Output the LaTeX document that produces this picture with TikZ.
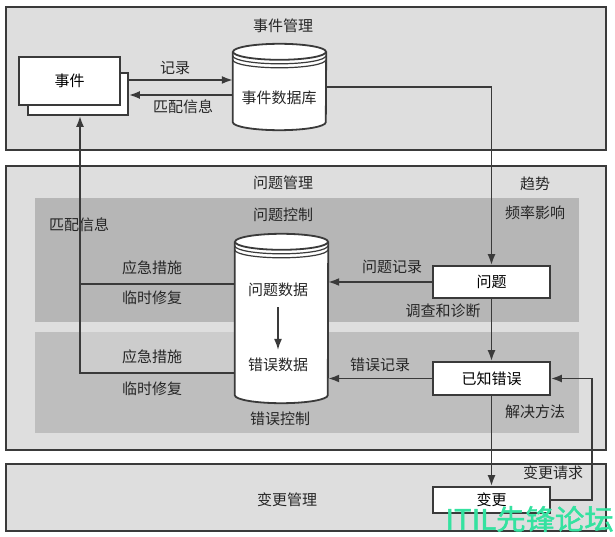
\documentclass[tikz,border=0pt]{standalone}
\usepackage{fontspec}
\setmainfont{Noto Sans CJK SC}
\newfontfamily\markfont{Noto Sans CJK SC}[FakeBold=1.6]
\usetikzlibrary{arrows.meta,calc,positioning}
\definecolor{outerfill}{RGB}{222,222,222}
\definecolor{bandfill}{RGB}{182,182,182}
\definecolor{bandfillb}{RGB}{190,190,190}
\definecolor{stripfill}{RGB}{204,204,204}
\definecolor{ink}{RGB}{58,58,58}
\definecolor{mark}{RGB}{52,226,160}

\newcommand\drum[1]{%
	\fill[white] (#1.north west) -- (#1.south west) arc[start angle=180,end angle=360,x radius=46.5pt,y radius=8pt] -- (#1.north east) arc[start angle=0,end angle=180,x radius=46.5pt,y radius=8pt] -- cycle;
	\draw[wire] (#1.north west) -- (#1.south west) arc[start angle=180,end angle=360,x radius=46.5pt,y radius=8pt] -- (#1.north east);
	\draw[wire] (#1.north) ellipse[x radius=46.5pt,y radius=8pt];
	\draw[ink, line width=1.2pt] ([yshift=-4pt]#1.north west) arc[start angle=180,end angle=360,x radius=46.5pt,y radius=8pt];
	\draw[ink, line width=1.2pt] ([yshift=-8pt]#1.north west) arc[start angle=180,end angle=360,x radius=46.5pt,y radius=8pt];
}

\begin{document}
\begin{tikzpicture}[x=1pt,y=-1pt,
		font=\fontsize{15}{17}\selectfont,
		region/.style={draw=ink, line width=1.5pt, fill=outerfill},
		box/.style={draw=ink, line width=1.8pt, fill=white, text=black, minimum width=117pt, inner sep=0pt},
		lbl/.style={text=black!85, inner sep=0pt},
		wire/.style={draw=ink, line width=1.8pt},
		flow/.style={draw=ink, line width=1.8pt, -{Latex[length=11pt,width=8pt]}}]
	\useasboundingbox (0,0) rectangle (615,537);
	\draw[region] (6,7) rectangle (606,150);
	\draw[region] (6,166) rectangle (606,450);
	\fill[bandfill] (35,198) rectangle (579,322);
	\fill[bandfillb] (35,332) rectangle (579,433);
	\fill[stripfill] (80,332) rectangle (235,373);
	\draw[region] (6,464) rectangle (606,531);

	\node[lbl] (evtmgmt) at (283,26) {事件管理};
	\node[lbl] (probmgmt) at (283,183) {问题管理};
	\node[lbl] (probctl) at (283,215) {问题控制};
	\node[lbl] (errctl) at (280,419) {错误控制};
	\node[lbl] (chgmgmt) at (287,500) {变更管理};
	\node[lbl] (trend) at (535,184) {趋势};
	\node[lbl] (freq) at (535,213) {频率影响};
	\node[lbl] (matchB) at (79,225) {匹配信息};
	\node[lbl] (wkA) at (152,268) {应急措施};
	\node[lbl] (fixA) at (152,298) {临时修复};
	\node[lbl] (wkB) at (152,357) {应急措施};
	\node[lbl] (fixB) at (152,389) {临时修复};
	\node[lbl] (probrec) at (392,267) {问题记录};
	\node[lbl] (diag) at (443,311) {调查和诊断};
	\node[lbl] (errrec) at (380,365) {错误记录};
	\node[lbl] (solve) at (535,412) {解决方法};
	\node[lbl] (rfc) at (553,473) {变更请求};
	\node[lbl] (rec) at (175,68) {记录};
	\node[lbl] (matchA) at (183,107) {匹配信息};

	\node[box, minimum width=100pt, minimum height=42pt] (evtback) at (78,94) {};
	\node[box, minimum width=101pt, minimum height=48pt] (evt) at (69.5,81) {事件};
	\node[box, minimum height=32pt] (prob) at (491.5,282) {问题};
	\node[box, minimum height=33pt] (kerr) at (491.5,378.5) {已知错误};
	\node[box, minimum height=26pt] (chg) at (491.5,500) {变更};

	\node[minimum width=93pt, minimum height=70pt, inner sep=0pt] (edb) at (279.5,87) {};
	\drum{edb}
	\node[lbl] (edbtxt) at (279,98) {事件数据库};
	\node[minimum width=93pt, minimum height=153pt, inner sep=0pt] (pdb) at (281.5,318.5) {};
	\drum{pdb}
	\node[lbl] (pdata) at (278,290) {问题数据};
	\node[lbl] (edata) at (278,365) {错误数据};

	\coordinate (rowA) at (0,80);
	\coordinate (rowB) at (0,95);
	\coordinate (tapA) at (80,284);
	\coordinate (tapB) at (80,373);
	\draw[flow] (evtback.east |- rowA) -- (edb.west |- rowA);
	\draw[flow] (edb.west |- rowB) -- (evtback.east |- rowB);
	\draw[flow] (edb.east) -| (prob.north);
	\draw[flow] (prob.west) -- (prob.west -| pdb.east);
	\draw[flow] (kerr.west) -- (kerr.west -| pdb.east);
	\draw[flow] (prob.south) -- (kerr.north);
	\draw[flow] (kerr.south) -- (chg.north);
	\draw[flow] (chg.east) -- ++(41,0) |- (kerr.east);
	\draw[wire] (pdb.west |- tapA) -- (tapA);
	\draw[flow] (pdb.west |- tapB) -- (tapB) -- (tapB |- evtback.south);
	\draw[flow, line width=1.4pt, shorten <=10pt, shorten >=8pt] (pdata) -- (edata);

	\node[text=mark, font=\markfont\fontsize{28}{30}\selectfont, inner sep=0pt, xscale=1.05, anchor=east] (wm) at (614,519) {ITIL先锋论坛};
\end{tikzpicture}
\end{document}
